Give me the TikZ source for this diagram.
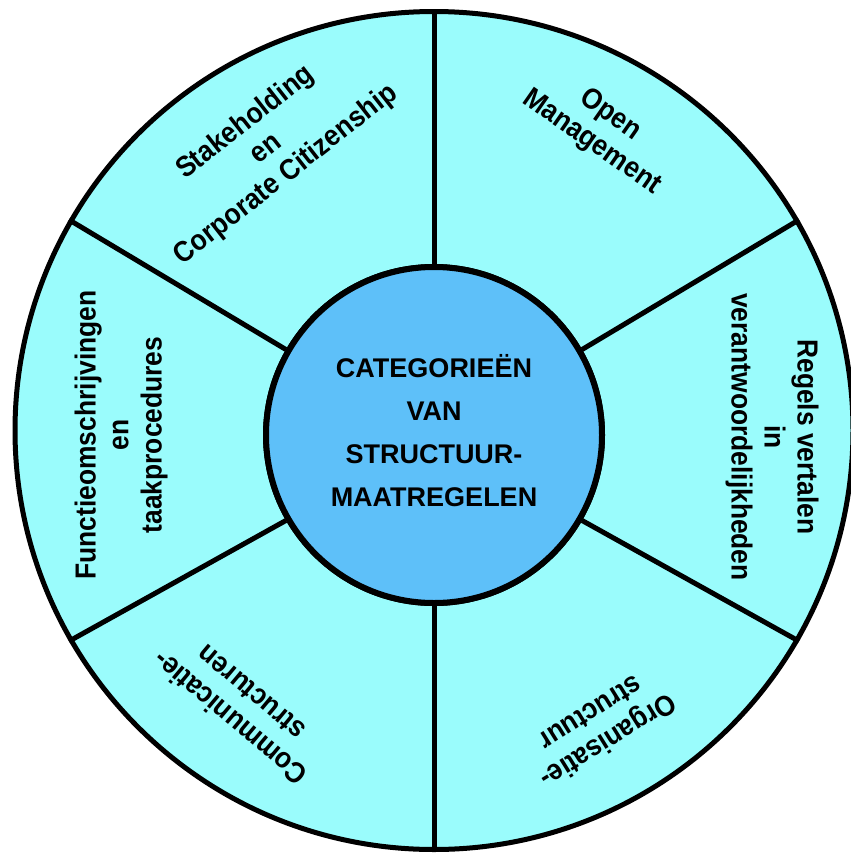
\documentclass[tikz,border=0pt]{standalone}
\usepackage{fontspec}
\setmainfont{Liberation Sans}
\definecolor{ringcyan}{RGB}{154,252,252}
\definecolor{hubblue}{RGB}{94,192,249}
\begin{document}
\begin{tikzpicture}[x=1pt,y=-1pt,
  ring/.style={circle, draw=black, line width=5pt, fill=ringcyan, inner sep=0pt, minimum size=838pt},
  hubdisc/.style={circle, draw=black, line width=6pt, fill=hubblue, inner sep=0pt, minimum size=336pt},
  spoke/.style={draw=black, line width=5pt},
  seglabel/.style={font=\bfseries\fontsize{29}{33}\selectfont, align=center, inner sep=0pt},
  narrow/.style={xscale=0.91},
  hublabel/.style={font=\bfseries\fontsize{27}{43}\selectfont, align=center, inner sep=0pt}]
  \useasboundingbox[fill=white] (0,0) rectangle (851,854);

  % outer wheel and the six spokes
  \node[ring] (outer) at (434,430.5) {};
  \node[hubdisc] (hub) at (434,435) {};
  \foreach \a in {90,150,210,270,330,30}
    \draw[spoke] (hub.\a) -- (outer.\a);
  % redraw the hub on top of the spokes
  \node[hubdisc] (hubtop) at (434,435) {};

  % centre text
  \node[hublabel] (title) at (434,431) {CATEGORIEËN\\VAN\\STRUCTUUR-\\MAATREGELEN};

  % segment texts (rotated first, then narrowed along their own baseline)
  \node[seglabel, rotate=38, narrow] (stake) at (266,149) {Stakeholding\\en\\Corporate Citizenship};
  \node[seglabel, rotate=-35, narrow] (open) at (601,129) {Open\\Management};
  \node[seglabel, rotate=-90, narrow] (regels) at (772,437) {Regels vertalen\\in\\verantwoordelijkheden};
  \node[seglabel, rotate=212, narrow] (org) at (600,728) {Organisatie-\\structuur};
  \node[seglabel, rotate=140, narrow] (comm) at (240,706) {Communicatie-\\structuren};
  \node[seglabel, rotate=90, narrow] (func) at (121,435) {Functieomschrijvingen\\en\\taakprocedures};
\end{tikzpicture}
\end{document}
